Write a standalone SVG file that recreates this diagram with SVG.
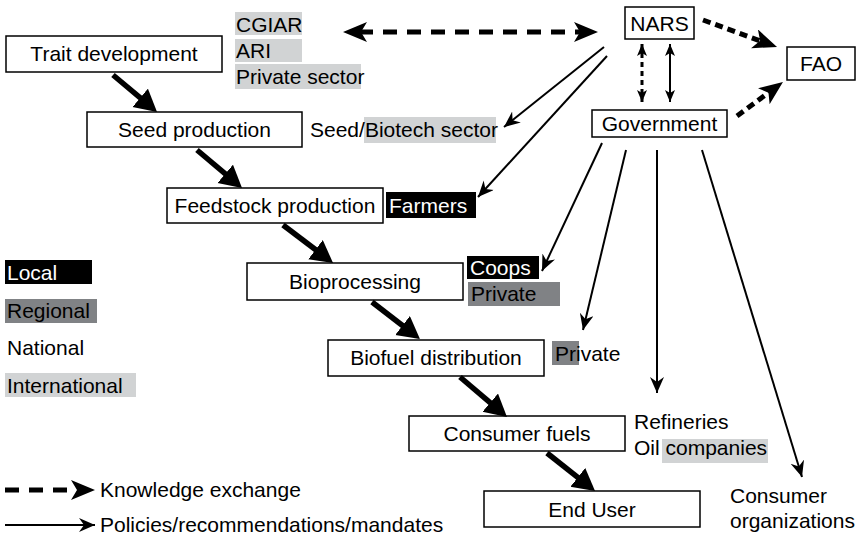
<svg xmlns="http://www.w3.org/2000/svg" width="858" height="535" viewBox="0 0 858 535">
  <style>
    text { font-family: "Liberation Sans", Arial, sans-serif; font-size: 21px; fill: #000; }
    .box { fill: #fff; stroke: #000; stroke-width: 1.5; }
    .c { text-anchor: middle; }
    .w { fill: #fff; }
    .hl-light { fill: #d1d3d4; }
    .hl-mid { fill: #808285; }
    .hl-dark { fill: #000; }
    .thick { stroke: #000; stroke-width: 5.5; fill: none; marker-end: url(#mThick); }
    .know { stroke: #000; stroke-width: 5; fill: none; stroke-dasharray: 14 10; }
    .dot { stroke: #000; stroke-width: 5; fill: none; stroke-dasharray: 8 5; }
    .policy { stroke: #000; stroke-width: 2; fill: none; marker-end: url(#mThin); }
  </style>
  <defs>
    <marker id="mThick" markerUnits="userSpaceOnUse" markerWidth="24" markerHeight="26" refX="6" refY="12" orient="auto">
      <path d="M0,0 L22,12 L0,24 Z" fill="#000"/>
    </marker>
    <marker id="mKnow" markerUnits="userSpaceOnUse" markerWidth="26" markerHeight="22" refX="8" refY="10" orient="auto-start-reverse">
      <path d="M0,0 L24,10 L0,20 L6,10 Z" fill="#000"/>
    </marker>
    <marker id="mThin" markerUnits="userSpaceOnUse" markerWidth="18" markerHeight="16" refX="16" refY="7" orient="auto-start-reverse">
      <path d="M0,0 L16,7 L0,14 L5,7 Z" fill="#000"/>
    </marker>
    <marker id="mSmall" markerUnits="userSpaceOnUse" markerWidth="14" markerHeight="12" refX="12" refY="5" orient="auto-start-reverse">
      <path d="M0,0 L12,5 L0,10 L3,5 Z" fill="#000"/>
    </marker>
  </defs>

  <!-- Value chain nodes -->
  <g id="trait-development">
    <rect class="box" x="6" y="36" width="216" height="36"/>
    <text class="c" x="114" y="61">Trait development</text>
  </g>
  <g id="seed-production">
    <rect class="box" x="87" y="112" width="215" height="35"/>
    <text class="c" x="194.5" y="137">Seed production</text>
  </g>
  <g id="feedstock-production">
    <rect class="box" x="167" y="188" width="216" height="35"/>
    <text class="c" x="275" y="213">Feedstock production</text>
  </g>
  <g id="bioprocessing">
    <rect class="box" x="247" y="263" width="216" height="37"/>
    <text class="c" x="355" y="289">Bioprocessing</text>
  </g>
  <g id="biofuel-distribution">
    <rect class="box" x="328" y="340" width="216" height="36"/>
    <text class="c" x="436" y="365">Biofuel distribution</text>
  </g>
  <g id="consumer-fuels">
    <rect class="box" x="409" y="416" width="216" height="35"/>
    <text class="c" x="517" y="441">Consumer fuels</text>
  </g>
  <g id="end-user">
    <rect class="box" x="484" y="491" width="216" height="36"/>
    <text class="c" x="592" y="517">End User</text>
  </g>

  <!-- Institutions -->
  <g id="nars">
    <rect class="box" x="625" y="7" width="69" height="32"/>
    <text class="c" x="659.5" y="31">NARS</text>
  </g>
  <g id="fao">
    <rect class="box" x="787" y="47" width="68" height="33"/>
    <text class="c" x="821" y="71">FAO</text>
  </g>
  <g id="government">
    <rect class="box" x="592" y="110" width="135" height="27"/>
    <text class="c" x="659.5" y="131">Government</text>
  </g>

  <!-- Actor labels -->
  <g id="international-research">
    <rect class="hl-light" x="235" y="12" width="67" height="23"/>
    <rect class="hl-light" x="235" y="39" width="67" height="23"/>
    <rect class="hl-light" x="235" y="64" width="126" height="25"/>
    <text x="236" y="32">CGIAR</text>
    <text x="236" y="58">ARI</text>
    <text x="236" y="84">Private sector</text>
  </g>
  <g id="seed-biotech-sector">
    <rect class="hl-light" x="364" y="117" width="132" height="26"/>
    <text x="310" y="137">Seed/Biotech sector</text>
  </g>
  <g id="farmers">
    <rect class="hl-dark" x="386" y="192" width="90" height="26"/>
    <text class="w" x="389" y="213">Farmers</text>
  </g>
  <g id="coops-private">
    <rect class="hl-dark" x="467" y="256" width="72" height="23"/>
    <text class="w" x="470" y="275">Coops</text>
    <rect class="hl-mid" x="468" y="282" width="92" height="24"/>
    <text x="471" y="301">Private</text>
  </g>
  <g id="private-distribution">
    <rect class="hl-mid" x="552" y="341" width="27" height="24"/>
    <text x="555" y="361">Private</text>
  </g>
  <g id="refineries-oil">
    <rect class="hl-light" x="662" y="439" width="106" height="24"/>
    <text x="634" y="429">Refineries</text>
    <text x="634" y="455">Oil companies</text>
  </g>
  <g id="consumer-organizations">
    <text x="730" y="503">Consumer</text>
    <text x="730" y="528">organizations</text>
  </g>

  <!-- Scale legend -->
  <g id="legend-scale">
    <rect class="hl-dark" x="5" y="260" width="87" height="24"/>
    <text class="w" x="7" y="280">Local</text>
    <rect class="hl-mid" x="5" y="299" width="92" height="24"/>
    <text x="7" y="318">Regional</text>
    <text x="7" y="355">National</text>
    <rect class="hl-light" x="5" y="373" width="131" height="24"/>
    <text x="7" y="393">International</text>
  </g>

  <!-- Connector legend -->
  <g id="legend-connectors">
    <line class="know" x1="5" y1="490" x2="79" y2="490" stroke-dasharray="10 8" marker-end="url(#mKnow)"/>
    <text x="100" y="497">Knowledge exchange</text>
    <line class="policy" x1="5" y1="525" x2="95" y2="525"/>
    <text x="100" y="532">Policies/recommendations/mandates</text>
  </g>

  <!-- Connectors -->
  <g id="connectors">
    <!-- value chain flow -->
    <line class="thick" x1="113" y1="75" x2="144.8" y2="101.7"/>
    <line class="thick" x1="197" y1="150" x2="229.8" y2="177.7"/>
    <line class="thick" x1="283" y1="225" x2="320.3" y2="253.3"/>
    <line class="thick" x1="372" y1="302" x2="407.3" y2="329.2"/>
    <line class="thick" x1="460" y1="377" x2="494.8" y2="406.6"/>
    <line class="thick" x1="547" y1="453" x2="582.5" y2="481.1"/>

    <!-- knowledge exchange -->
    <line class="know" x1="359" y1="32" x2="582" y2="32" marker-start="url(#mKnow)" marker-end="url(#mKnow)"/>
    <line class="dot" x1="703" y1="20" x2="762" y2="41.5" marker-end="url(#mKnow)"/>
    <line class="dot" x1="737" y1="116" x2="770.1" y2="91.5" marker-end="url(#mKnow)"/>
    <line x1="642" y1="44" x2="642" y2="102" stroke="#000" stroke-width="3" stroke-dasharray="5 4" marker-start="url(#mSmall)" marker-end="url(#mSmall)"/>

    <!-- policies -->
    <line x1="670" y1="44" x2="670" y2="102" stroke="#000" stroke-width="2" marker-start="url(#mSmall)" marker-end="url(#mSmall)"/>
    <line class="policy" x1="604" y1="47" x2="504" y2="127"/>
    <line class="policy" x1="607" y1="56" x2="478" y2="197"/>
    <line class="policy" x1="602" y1="143" x2="542" y2="271"/>
    <line class="policy" x1="626" y1="150" x2="583" y2="330"/>
    <line class="policy" x1="657" y1="150" x2="657" y2="393"/>
    <line class="policy" x1="702" y1="150" x2="802" y2="477"/>
  </g>
</svg>
